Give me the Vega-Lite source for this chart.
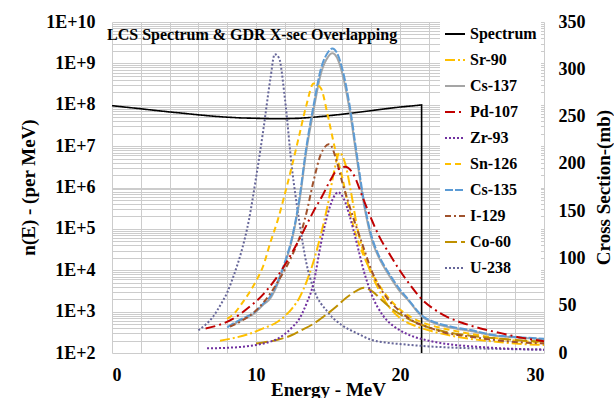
{
  "$schema": "https://vega.github.io/schema/vega-lite/v6.json",
  "width": 432,
  "height": 331,
  "autosize": {"type": "none"},
  "padding": {"left": 112, "top": 22, "right": 70, "bottom": 45},
  "background": "white",
  "config": {
    "font": "Liberation Serif",
    "view": {"stroke": null},
    "axis": {
      "labelFont": "Liberation Serif", "labelFontWeight": "bold", "labelFontSize": 18, "labelColor": "black",
      "titleFont": "Liberation Serif", "titleFontWeight": "bold", "titleFontSize": 19, "titleColor": "black",
      "domain": false, "ticks": false, "gridColor": "#cccccc", "gridWidth": 1, "labelOverlap": false
    },
    "legend": {"labelFont": "Liberation Serif", "labelFontWeight": "bold", "labelFontSize": 16}
  },
  "title": {"text": "LCS Spectrum & GDR X-sec Overlapping", "anchor": "start", "frame": "group", "font": "Liberation Serif", "fontSize": 16, "fontWeight": "bold", "color": "black", "offset": 0, "dx": -5, "dy": 30},
  "datasets": {
    "spec": [
      {"s": "Spectrum", "i": 0, "x": 0, "n": 9.5e7}, {"s": "Spectrum", "i": 1, "x": 1, "n": 8.7e7}, {"s": "Spectrum", "i": 2, "x": 2, "n": 8.0e7},
      {"s": "Spectrum", "i": 3, "x": 3, "n": 7.3e7}, {"s": "Spectrum", "i": 4, "x": 4, "n": 6.7e7}, {"s": "Spectrum", "i": 5, "x": 5, "n": 6.2e7},
      {"s": "Spectrum", "i": 6, "x": 6, "n": 5.7e7}, {"s": "Spectrum", "i": 7, "x": 7, "n": 5.3e7}, {"s": "Spectrum", "i": 8, "x": 8, "n": 5.0e7},
      {"s": "Spectrum", "i": 9, "x": 9, "n": 4.8e7}, {"s": "Spectrum", "i": 10, "x": 10, "n": 4.7e7}, {"s": "Spectrum", "i": 11, "x": 11, "n": 4.6e7},
      {"s": "Spectrum", "i": 12, "x": 12, "n": 4.6e7}, {"s": "Spectrum", "i": 13, "x": 13, "n": 4.7e7}, {"s": "Spectrum", "i": 14, "x": 14, "n": 5.0e7},
      {"s": "Spectrum", "i": 15, "x": 15, "n": 5.4e7}, {"s": "Spectrum", "i": 16, "x": 16, "n": 5.9e7}, {"s": "Spectrum", "i": 17, "x": 17, "n": 6.5e7},
      {"s": "Spectrum", "i": 18, "x": 18, "n": 7.2e7}, {"s": "Spectrum", "i": 19, "x": 19, "n": 8.0e7}, {"s": "Spectrum", "i": 20, "x": 20, "n": 8.8e7},
      {"s": "Spectrum", "i": 21, "x": 21, "n": 9.5e7}, {"s": "Spectrum", "i": 22, "x": 21.5, "n": 9.9e7}, {"s": "Spectrum", "i": 23, "x": 21.5, "n": 100}
    ],
    "xs": [
      {"s":"U-238","x":6,"y":24},{"s":"U-238","x":6.5,"y":30},{"s":"U-238","x":7,"y":38},{"s":"U-238","x":7.5,"y":50},{"s":"U-238","x":8,"y":64},{"s":"U-238","x":8.5,"y":84},{"s":"U-238","x":9,"y":108},{"s":"U-238","x":9.5,"y":140},{"s":"U-238","x":10,"y":185},{"s":"U-238","x":10.5,"y":235},{"s":"U-238","x":11,"y":290},{"s":"U-238","x":11.3,"y":316},{"s":"U-238","x":11.6,"y":312},{"s":"U-238","x":12,"y":270},{"s":"U-238","x":12.5,"y":195},{"s":"U-238","x":13,"y":140},{"s":"U-238","x":13.5,"y":95},{"s":"U-238","x":14,"y":68},{"s":"U-238","x":15,"y":43},{"s":"U-238","x":16,"y":29},{"s":"U-238","x":17,"y":21},{"s":"U-238","x":18,"y":14},{"s":"U-238","x":19,"y":11},{"s":"U-238","x":20,"y":9.5},{"s":"U-238","x":22,"y":7},{"s":"U-238","x":24,"y":5.5},{"s":"U-238","x":26,"y":4.6},{"s":"U-238","x":28,"y":4},{"s":"U-238","x":30,"y":3.5},

      {"s":"Cs-137","x":8.2,"y":28},{"s":"Cs-137","x":9,"y":35},{"s":"Cs-137","x":9.8,"y":41},{"s":"Cs-137","x":10.5,"y":51},{"s":"Cs-137","x":11,"y":58},{"s":"Cs-137","x":11.5,"y":73},{"s":"Cs-137","x":12,"y":94},{"s":"Cs-137","x":12.5,"y":120},{"s":"Cs-137","x":13,"y":159},{"s":"Cs-137","x":13.5,"y":214},{"s":"Cs-137","x":14,"y":257},{"s":"Cs-137","x":14.5,"y":295},{"s":"Cs-137","x":15,"y":313},{"s":"Cs-137","x":15.3,"y":317},{"s":"Cs-137","x":15.6,"y":313},{"s":"Cs-137","x":16,"y":295},{"s":"Cs-137","x":16.5,"y":257},{"s":"Cs-137","x":17,"y":206},{"s":"Cs-137","x":17.5,"y":157},{"s":"Cs-137","x":18,"y":122},{"s":"Cs-137","x":18.5,"y":102},{"s":"Cs-137","x":19,"y":88},{"s":"Cs-137","x":19.5,"y":76},{"s":"Cs-137","x":20,"y":65},{"s":"Cs-137","x":20.5,"y":57},{"s":"Cs-137","x":21.5,"y":39},{"s":"Cs-137","x":22.5,"y":31},{"s":"Cs-137","x":23.5,"y":27},{"s":"Cs-137","x":25,"y":23},{"s":"Cs-137","x":26.5,"y":18.5},{"s":"Cs-137","x":28,"y":16.5},{"s":"Cs-137","x":30,"y":14.5},

      {"s":"Cs-135","x":8,"y":27},{"s":"Cs-135","x":8.4,"y":31},{"s":"Cs-135","x":9,"y":36},{"s":"Cs-135","x":9.8,"y":42},{"s":"Cs-135","x":10.5,"y":52},{"s":"Cs-135","x":11,"y":60},{"s":"Cs-135","x":11.5,"y":75},{"s":"Cs-135","x":12,"y":96},{"s":"Cs-135","x":12.5,"y":122},{"s":"Cs-135","x":13,"y":162},{"s":"Cs-135","x":13.5,"y":218},{"s":"Cs-135","x":14,"y":262},{"s":"Cs-135","x":14.5,"y":300},{"s":"Cs-135","x":15,"y":318},{"s":"Cs-135","x":15.3,"y":322},{"s":"Cs-135","x":15.6,"y":318},{"s":"Cs-135","x":16,"y":300},{"s":"Cs-135","x":16.5,"y":262},{"s":"Cs-135","x":17,"y":210},{"s":"Cs-135","x":17.5,"y":160},{"s":"Cs-135","x":18,"y":125},{"s":"Cs-135","x":18.5,"y":104},{"s":"Cs-135","x":19,"y":90},{"s":"Cs-135","x":19.5,"y":78},{"s":"Cs-135","x":20,"y":67},{"s":"Cs-135","x":20.5,"y":58},{"s":"Cs-135","x":21.5,"y":40},{"s":"Cs-135","x":22.5,"y":32},{"s":"Cs-135","x":23.5,"y":28},{"s":"Cs-135","x":25,"y":24},{"s":"Cs-135","x":26.5,"y":19},{"s":"Cs-135","x":28,"y":17},{"s":"Cs-135","x":30,"y":15},

      {"s":"Sn-126","x":8,"y":36},{"s":"Sn-126","x":8.5,"y":42},{"s":"Sn-126","x":9,"y":52},{"s":"Sn-126","x":9.5,"y":63},{"s":"Sn-126","x":10,"y":76},{"s":"Sn-126","x":10.5,"y":92},{"s":"Sn-126","x":11,"y":117},{"s":"Sn-126","x":11.5,"y":140},{"s":"Sn-126","x":12,"y":168},{"s":"Sn-126","x":12.5,"y":198},{"s":"Sn-126","x":13,"y":230},{"s":"Sn-126","x":13.5,"y":262},{"s":"Sn-126","x":14,"y":285},{"s":"Sn-126","x":14.5,"y":280},{"s":"Sn-126","x":15,"y":250},{"s":"Sn-126","x":15.5,"y":215},{"s":"Sn-126","x":16,"y":185},{"s":"Sn-126","x":16.5,"y":150},{"s":"Sn-126","x":17,"y":122},{"s":"Sn-126","x":17.5,"y":102},{"s":"Sn-126","x":18,"y":86},{"s":"Sn-126","x":19,"y":62},{"s":"Sn-126","x":20,"y":46},{"s":"Sn-126","x":21,"y":36},{"s":"Sn-126","x":22,"y":30},{"s":"Sn-126","x":23,"y":26},{"s":"Sn-126","x":25,"y":20},{"s":"Sn-126","x":27,"y":15},{"s":"Sn-126","x":30,"y":11},

      {"s":"Sr-90","x":7.5,"y":13},{"s":"Sr-90","x":8.5,"y":16},{"s":"Sr-90","x":9.5,"y":20},{"s":"Sr-90","x":10.5,"y":26},{"s":"Sr-90","x":11.5,"y":33},{"s":"Sr-90","x":12,"y":39},{"s":"Sr-90","x":12.5,"y":47},{"s":"Sr-90","x":13,"y":58},{"s":"Sr-90","x":13.5,"y":75},{"s":"Sr-90","x":14,"y":97},{"s":"Sr-90","x":14.5,"y":125},{"s":"Sr-90","x":15,"y":158},{"s":"Sr-90","x":15.4,"y":190},{"s":"Sr-90","x":15.8,"y":212},{"s":"Sr-90","x":16.2,"y":200},{"s":"Sr-90","x":16.6,"y":170},{"s":"Sr-90","x":17,"y":135},{"s":"Sr-90","x":17.5,"y":105},{"s":"Sr-90","x":18,"y":84},{"s":"Sr-90","x":18.5,"y":68},{"s":"Sr-90","x":19,"y":54},{"s":"Sr-90","x":19.5,"y":44},{"s":"Sr-90","x":20,"y":37},{"s":"Sr-90","x":21,"y":29},{"s":"Sr-90","x":22,"y":24},{"s":"Sr-90","x":24,"y":17},{"s":"Sr-90","x":26,"y":13},{"s":"Sr-90","x":28,"y":10},{"s":"Sr-90","x":30,"y":8.5},

      {"s":"Co-60","x":10,"y":10},{"s":"Co-60","x":10.5,"y":11},{"s":"Co-60","x":11.5,"y":14},{"s":"Co-60","x":12.5,"y":19},{"s":"Co-60","x":13,"y":23},{"s":"Co-60","x":14,"y":31},{"s":"Co-60","x":15,"y":42},{"s":"Co-60","x":15.5,"y":48},{"s":"Co-60","x":16,"y":55},{"s":"Co-60","x":16.5,"y":61},{"s":"Co-60","x":17,"y":66},{"s":"Co-60","x":17.5,"y":69},{"s":"Co-60","x":18,"y":66},{"s":"Co-60","x":18.8,"y":55},{"s":"Co-60","x":19.5,"y":46},{"s":"Co-60","x":20,"y":41},{"s":"Co-60","x":21,"y":33},{"s":"Co-60","x":22,"y":27},{"s":"Co-60","x":23,"y":23},{"s":"Co-60","x":25,"y":18},{"s":"Co-60","x":27,"y":15},{"s":"Co-60","x":30,"y":12},

      {"s":"Zr-93","x":6.6,"y":5},{"s":"Zr-93","x":8,"y":5.5},{"s":"Zr-93","x":9,"y":6.5},{"s":"Zr-93","x":10,"y":8.5},{"s":"Zr-93","x":11,"y":12},{"s":"Zr-93","x":11.5,"y":15},{"s":"Zr-93","x":12,"y":20},{"s":"Zr-93","x":12.5,"y":27},{"s":"Zr-93","x":13,"y":36},{"s":"Zr-93","x":13.5,"y":52},{"s":"Zr-93","x":14,"y":74},{"s":"Zr-93","x":14.5,"y":115},{"s":"Zr-93","x":15,"y":148},{"s":"Zr-93","x":15.4,"y":165},{"s":"Zr-93","x":15.7,"y":170},{"s":"Zr-93","x":16.1,"y":163},{"s":"Zr-93","x":16.5,"y":145},{"s":"Zr-93","x":17,"y":116},{"s":"Zr-93","x":17.5,"y":86},{"s":"Zr-93","x":18,"y":63},{"s":"Zr-93","x":18.8,"y":40},{"s":"Zr-93","x":19.5,"y":29},{"s":"Zr-93","x":20,"y":24},{"s":"Zr-93","x":21,"y":17},{"s":"Zr-93","x":22,"y":13},{"s":"Zr-93","x":23.5,"y":9},{"s":"Zr-93","x":25,"y":7},{"s":"Zr-93","x":27,"y":5},{"s":"Zr-93","x":30,"y":3.5},

      {"s":"I-129","x":8.2,"y":28},{"s":"I-129","x":9,"y":34},{"s":"I-129","x":10,"y":45},{"s":"I-129","x":11,"y":63},{"s":"I-129","x":11.5,"y":75},{"s":"I-129","x":12,"y":88},{"s":"I-129","x":12.5,"y":103},{"s":"I-129","x":13,"y":121},{"s":"I-129","x":13.5,"y":148},{"s":"I-129","x":14,"y":182},{"s":"I-129","x":14.5,"y":210},{"s":"I-129","x":15.1,"y":221},{"s":"I-129","x":15.6,"y":203},{"s":"I-129","x":16,"y":180},{"s":"I-129","x":16.5,"y":155},{"s":"I-129","x":17,"y":132},{"s":"I-129","x":17.5,"y":110},{"s":"I-129","x":18,"y":88},{"s":"I-129","x":18.5,"y":72},{"s":"I-129","x":19,"y":60},{"s":"I-129","x":20,"y":44},{"s":"I-129","x":21,"y":33},{"s":"I-129","x":22,"y":27},{"s":"I-129","x":23,"y":22},{"s":"I-129","x":25,"y":17},{"s":"I-129","x":27,"y":13},{"s":"I-129","x":30,"y":10},

      {"s":"Pd-107","x":6.5,"y":26},{"s":"Pd-107","x":7.5,"y":30},{"s":"Pd-107","x":8.5,"y":37},{"s":"Pd-107","x":9.4,"y":47},{"s":"Pd-107","x":10.5,"y":62},{"s":"Pd-107","x":11.3,"y":77},{"s":"Pd-107","x":12,"y":93},{"s":"Pd-107","x":12.5,"y":106},{"s":"Pd-107","x":13,"y":120},{"s":"Pd-107","x":13.5,"y":135},{"s":"Pd-107","x":14,"y":150},{"s":"Pd-107","x":14.6,"y":166},{"s":"Pd-107","x":15.1,"y":181},{"s":"Pd-107","x":15.6,"y":193},{"s":"Pd-107","x":16.2,"y":197},{"s":"Pd-107","x":16.8,"y":188},{"s":"Pd-107","x":17.4,"y":165},{"s":"Pd-107","x":18,"y":142},{"s":"Pd-107","x":18.6,"y":122},{"s":"Pd-107","x":19.3,"y":104},{"s":"Pd-107","x":20,"y":87},{"s":"Pd-107","x":20.7,"y":72},{"s":"Pd-107","x":21.5,"y":57},{"s":"Pd-107","x":22.3,"y":47},{"s":"Pd-107","x":23.3,"y":38},{"s":"Pd-107","x":24.5,"y":31},{"s":"Pd-107","x":25.6,"y":26},{"s":"Pd-107","x":27,"y":21},{"s":"Pd-107","x":28.5,"y":16},{"s":"Pd-107","x":30,"y":12.5}
    ]
  },
  "layer": [
    {
      "data": {"name": "spec"},
      "mark": {"type": "line", "strokeWidth": 1.6},
      "encoding": {
        "x": {"field": "x", "type": "quantitative", "scale": {"domain": [0, 30], "nice": false},
          "axis": {"values": [0,2,4,6,8,10,12,14,16,18,20,22,24,26,28,30], "labelExpr": "datum.value % 10 == 0 ? datum.label : ''", "labelOverlap": false, "grid": true, "labelPadding": 13, "title": "Energy - MeV", "titleX": 216, "titleY": 36, "titleBaseline": "middle", "titleAlign": "center"}},
        "y": {"field": "n", "type": "quantitative", "scale": {"type": "log", "domain": [100, 1e10], "nice": false},
          "axis": {"orient": "left", "grid": true, "labelPadding": 17, "labelOverlap": false,
            "values": [1e2,2e2,3e2,4e2,5e2,6e2,7e2,8e2,9e2,1e3,2e3,3e3,4e3,5e3,6e3,7e3,8e3,9e3,1e4,2e4,3e4,4e4,5e4,6e4,7e4,8e4,9e4,1e5,2e5,3e5,4e5,5e5,6e5,7e5,8e5,9e5,1e6,2e6,3e6,4e6,5e6,6e6,7e6,8e6,9e6,1e7,2e7,3e7,4e7,5e7,6e7,7e7,8e7,9e7,1e8,2e8,3e8,4e8,5e8,6e8,7e8,8e8,9e8,1e9,2e9,3e9,4e9,5e9,6e9,7e9,8e9,9e9,1e10],
            "labelExpr": "abs(log(datum.value)/LN10 - round(log(datum.value)/LN10)) < 0.001 ? '1E+' + round(log(datum.value)/LN10) : ''",
            "title": "n(E) - (per MeV)", "titleAngle": 270, "titleX": -84, "titleY": 165, "titleBaseline": "middle", "titleAlign": "center"}},
        "color": {"field": "s", "type": "nominal",
          "scale": {"domain": ["Spectrum","Sr-90","Cs-137","Pd-107","Zr-93","Sn-126","Cs-135","I-129","Co-60","U-238"],
                    "range": ["#000000","#ffc000","#a5a5a5","#c00000","#7030a0","#ffc000","#5b9bd5","#a0522d","#bf9000","#666699"]},
          "legend": {"orient": "none", "legendX": 328, "legendY": -3, "title": null, "fillColor": "white", "symbolType": "stroke", "symbolSize": 400, "symbolStrokeWidth": 2, "labelFont": "Liberation Serif", "labelFontSize": 16, "labelFontWeight": "bold", "labelColor": "black", "rowPadding": 7, "padding": 4}},
        "strokeDash": {"field": "s", "type": "nominal",
          "scale": {"domain": ["Spectrum","Sr-90","Cs-137","Pd-107","Zr-93","Sn-126","Cs-135","I-129","Co-60","U-238"],
                    "range": [[1,0],[10,3,2,3],[1,0],[10,4,2,4],[2,2],[6,4],[8,2],[6,3,2,3],[12,4],[2,2]]},
          "legend": {"orient": "none", "legendX": 328, "legendY": -3, "title": null, "fillColor": "white", "symbolType": "stroke", "symbolSize": 400, "symbolStrokeWidth": 2, "labelFont": "Liberation Serif", "labelFontSize": 16, "labelFontWeight": "bold", "labelColor": "black", "rowPadding": 7, "padding": 4}},
        "order": {"field": "i", "type": "quantitative"}
      }
    },
    {
      "data": {"name": "xs"},
      "mark": {"type": "line", "strokeWidth": 2, "interpolate": "monotone"},
      "encoding": {
        "x": {"field": "x", "type": "quantitative",
          "axis": {"values": [0,2,4,6,8,10,12,14,16,18,20,22,24,26,28,30], "labelExpr": "datum.value % 10 == 0 ? datum.label : ''", "labelOverlap": false, "grid": true, "labelPadding": 13, "title": "Energy - MeV", "titleX": 216, "titleY": 36, "titleBaseline": "middle", "titleAlign": "center"}},
        "y": {"field": "y", "type": "quantitative", "scale": {"domain": [0, 350], "nice": false},
          "axis": {"orient": "right", "grid": false, "values": [0,50,100,150,200,250,300,350], "labelPadding": 14,
            "title": "Cross Section-(mb)", "titleAngle": 270, "titleX": 59, "titleY": 165, "titleBaseline": "middle", "titleAlign": "center"}},
        "color": {"field": "s", "type": "nominal"},
        "strokeDash": {"field": "s", "type": "nominal"}
      }
    }
  ],
  "resolve": {"scale": {"y": "independent"}}
}
